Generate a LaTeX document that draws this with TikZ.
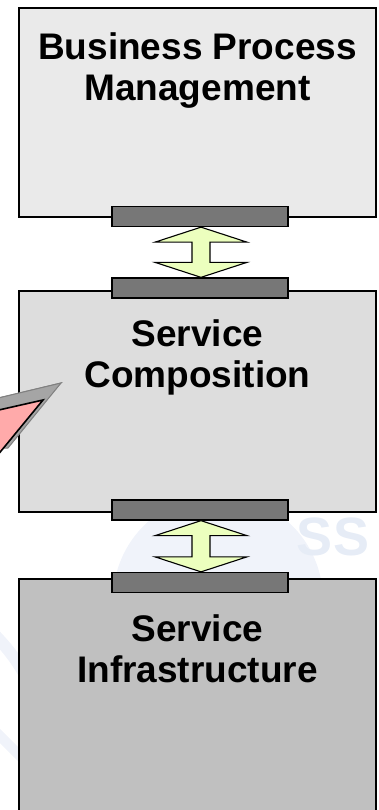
\documentclass[tikz,border=0pt]{standalone}
\usepackage{fontspec}
\setmainfont{Liberation Sans}
\usetikzlibrary{positioning,calc}
\definecolor{bpmfill}{RGB}{234,234,234}
\definecolor{compfill}{RGB}{221,221,221}
\definecolor{infrafill}{RGB}{192,192,192}
\definecolor{barfill}{RGB}{119,119,119}
\definecolor{arrowgreen}{RGB}{236,255,190}
\definecolor{calloutpink}{RGB}{255,170,170}
\definecolor{calloutgray}{RGB}{165,165,165}
\definecolor{wmarkblue}{RGB}{240,243,250}
\definecolor{wmarktext}{RGB}{230,236,246}
\newcommand{\dblarrow}[2]{%
  \path[arrowbody] let \p1=(#1.south), \p2=(#2.north) in
    (\x1+1pt,\y1) -- (\x1+47pt,\y1-15pt) -- (\x1+10pt,\y1-15pt) -- (\x1+10pt,\y2+15pt)
    -- (\x1+47pt,\y2+15pt) -- (\x1+1pt,\y2) -- (\x1-45pt,\y2+15pt) -- (\x1-8pt,\y2+15pt)
    -- (\x1-8pt,\y1-15pt) -- (\x1-45pt,\y1-15pt) -- cycle;%
}
\begin{document}
\begin{tikzpicture}[x=1pt,y=-1pt,
    layerbox/.style={draw=black,line width=1.3pt,inner sep=0pt,minimum width=357pt},
    layertext/.style={anchor=north,inner sep=0pt,align=center,font=\fontsize{37}{41}\selectfont\bfseries},
    interfacebar/.style={draw=black,line width=1.3pt,fill=barfill,inner sep=0pt,minimum width=176pt,minimum height=20pt},
    arrowbody/.style={draw=black,line width=1.1pt,fill=arrowgreen,line join=miter},
    wmark/.style={wmarkblue}]
  \useasboundingbox (0,0) rectangle (379,810);
  % faint logo behind the layers
  \fill[wmark] (218,600) circle [radius=105];
  \node[text=wmarktext,font=\fontsize{54}{54}\selectfont\bfseries] (logo) at (333,537) {SS};
  \draw[wmark,line width=12pt] (-8,632) to[bend left=8] (30,684);
  \draw[wmark,line width=10pt] (-8,728) -- (22,758);
  % the three layers
  \node[layerbox,fill=bpmfill,minimum height=209pt] (bpm) at (197.5,112.5) {};
  \node[layerbox,fill=compfill,minimum height=221pt] (comp) at (197.5,401.5) {};
  \node[layerbox,fill=infrafill,minimum height=250pt] (infra) at (197.5,704) {};
  \node[layertext] (bpmtext) at (197.5,32) {Business Process\\Management};
  \node[layertext] (comptext) at (197.5,319) {Service\\Composition};
  \node[layertext] (infratext) at (197.5,614) {Service\\Infrastructure};
  % interfaces
  \node[interfacebar] (bar1) at (200,216.5) {};
  \node[interfacebar] (bar2) at (200,288) {};
  \node[interfacebar] (bar3) at (200,510) {};
  \node[interfacebar] (bar4) at (200,582.5) {};
  \dblarrow{bar1}{bar2}
  \dblarrow{bar3}{bar4}
  % callout pointer from the left
  \coordinate (tipback) at (61,383);
  \coordinate (tipfront) at (43,400);
  \fill[calloutgray,draw=gray,line width=1pt] (-10,400) -- (tipback) -- (tipfront) -- (-10,412) -- cycle;
  \fill[calloutgray,draw=gray,line width=1pt] (tipback) -- (8,448) -- (-10,448) -- (-10,400) -- cycle;
  \filldraw[fill=calloutpink,draw=black,line width=1.6pt,line join=miter] (-10,412) -- (tipfront) -- (-8,462) -- cycle;
\end{tikzpicture}
\end{document}
